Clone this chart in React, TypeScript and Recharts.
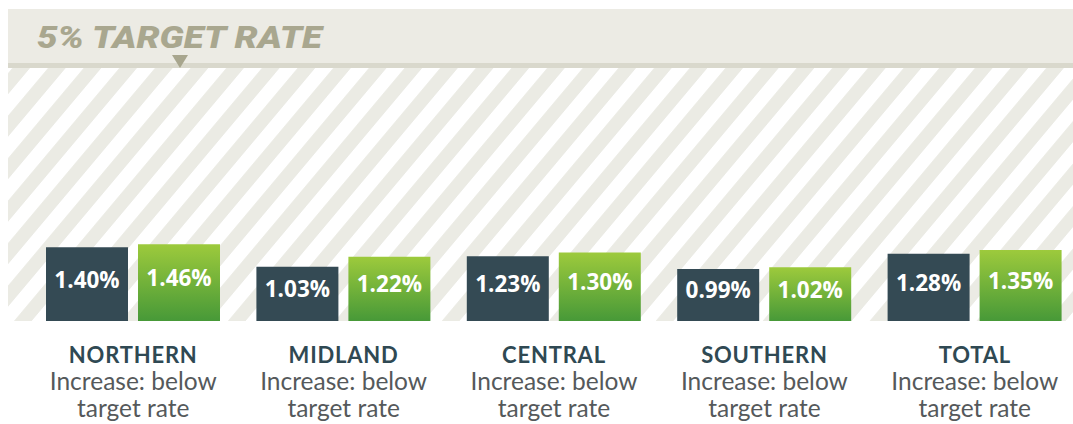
import React from 'react';
import { BarChart, Bar, XAxis, YAxis, LabelList } from 'recharts';

const regions = ['NORTHERN', 'MIDLAND', 'CENTRAL', 'SOUTHERN', 'TOTAL'];
const previousRate = [1.4, 1.03, 1.23, 0.99, 1.28];
const currentRate = [1.46, 1.22, 1.3, 1.02, 1.35];
const noteLines = ['Increase: below', 'target rate'];
const targetLabel = '5% TARGET RATE';

const data = regions.map((region, i) => ({
  region,
  previous: previousRate[i],
  current: currentRate[i],
}));

const fmt = (v: number) => `${v.toFixed(2)}%`;

function RegionTick({ x, y, payload }: any) {
  return (
    <g transform={`translate(${x},${y})`}>
      <text
        x={0}
        y={34}
        textAnchor="middle"
        fill="#2f4953"
        fontFamily="Lato"
        fontWeight={700}
        fontSize={22}
        letterSpacing={0.8}
      >
        {payload.value}
      </text>
      {noteLines.map((line, i) => (
        <text
          key={line}
          x={0}
          y={61 + i * 27}
          textAnchor="middle"
          fill="#55595b"
          fontFamily="Lato"
          fontSize={24.5}
        >
          {line}
        </text>
      ))}
    </g>
  );
}

function ValueLabel({ x, y, width, height, value }: any) {
  return (
    <text
      x={x + width / 2}
      y={y + height / 2 - 5}
      textAnchor="middle"
      dominantBaseline="central"
      fill="#ffffff"
      fontFamily="Open Sans"
      fontWeight={700}
      fontSize={22.5}
    >
      {fmt(value)}
    </text>
  );
}

function Backdrop() {
  return (
    <svg width={1073} height={424} style={{ position: 'absolute', left: 0, top: 0 }}>
      <defs>
        <pattern
          id="stripes"
          patternUnits="userSpaceOnUse"
          width={35.65}
          height={40}
          patternTransform="skewX(-40)"
        >
          <rect x={0} y={0} width={35.65} height={40} fill="#ebebe4" />
          <rect x={15.8} y={0} width={18} height={40} fill="#ffffff" />
        </pattern>
      </defs>
      <rect x={8} y={9} width={1065} height={54} fill="#ecebe4" />
      <rect x={8} y={63} width={1065} height={5} fill="#d9d8cc" />
      <rect x={8} y={68} width={1065} height={253} fill="url(#stripes)" />
      <text
        x={37}
        y={48}
        fill="#a9a78f"
        fontFamily="Roboto"
        fontStyle="italic"
        fontWeight={900}
        fontSize={32}
        textLength={285}
        lengthAdjust="spacingAndGlyphs"
      >
        {targetLabel}
      </text>
      <polygon points="172,55 188,55 180,68" fill="#a8a68e" />
    </svg>
  );
}

export default function App() {
  return (
    <div style={{ position: 'absolute', left: 0, top: 0, width: 1073, height: 424, overflow: 'hidden', background: '#fff' }}>
      <Backdrop />
      <div style={{ position: 'absolute', left: 0, top: 0 }}>
        <BarChart
          width={1090}
          height={424}
          data={data}
          margin={{ top: 58, right: 10, left: 28, bottom: 0 }}
          barSize={82}
          barGap={10}
        >
          <defs>
            <linearGradient id="greenGrad" x1="0" y1="0" x2="0" y2="1">
              <stop offset="0%" stopColor="#9dca3c" />
              <stop offset="100%" stopColor="#479938" />
            </linearGradient>
          </defs>
          <YAxis hide domain={[0, 5]} />
          <XAxis
            dataKey="region"
            axisLine={false}
            tickLine={false}
            interval={0}
            height={103}
            tick={<RegionTick />}
          />
          <Bar dataKey="previous" fill="#344a54" isAnimationActive={false}>
            <LabelList dataKey="previous" content={<ValueLabel />} />
          </Bar>
          <Bar dataKey="current" fill="url(#greenGrad)" isAnimationActive={false}>
            <LabelList dataKey="current" content={<ValueLabel />} />
          </Bar>
        </BarChart>
      </div>
    </div>
  );
}
